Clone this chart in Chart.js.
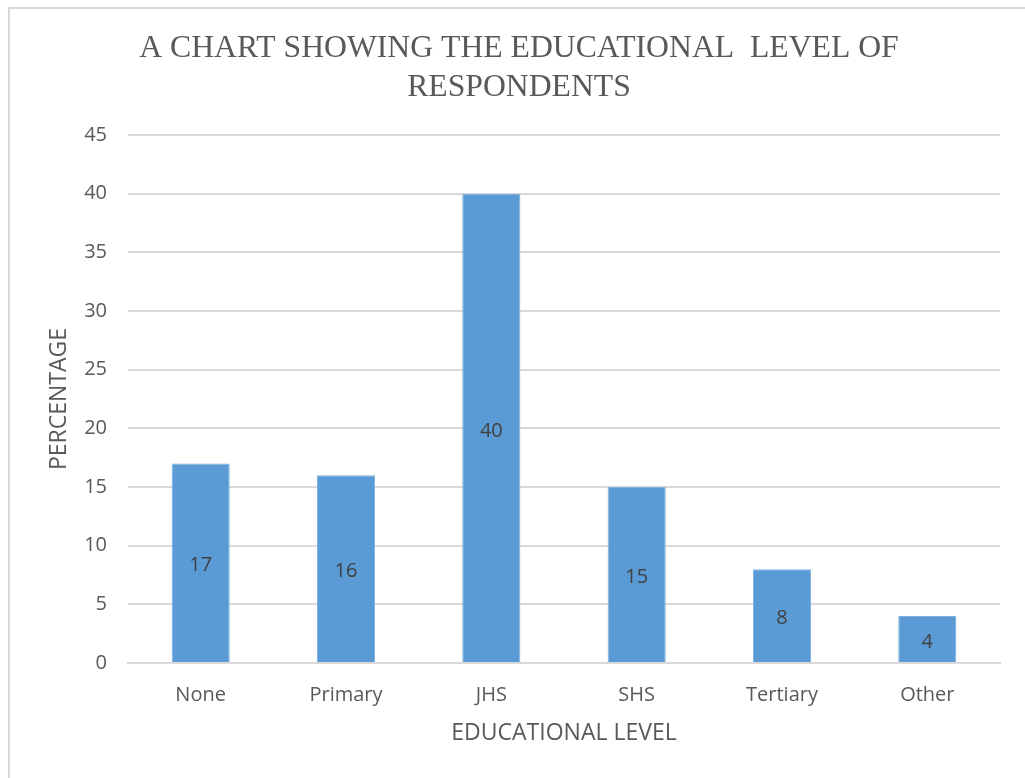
<!DOCTYPE html>
<html>
<head>
<meta charset="utf-8">
<script src="https://cdn.jsdelivr.net/npm/chart.js@4/dist/chart.umd.min.js"></script>
<style>
  html, body { margin: 0; padding: 0; background: #fff; }
  #frame { position: absolute; left: 8px; top: 7px; width: 1030px; height: 790px;
           border-left: 2px solid #d9d9d9; border-top: 2px solid #d9d9d9; }
  #wrap { position: absolute; left: 0; top: 0; width: 1025px; height: 778px; }
</style>
</head>
<body>
<div id="frame"></div>
<div id="wrap"><canvas id="c" width="1025" height="778"></canvas></div>
<script>
const categories = ['None', 'Primary', 'JHS', 'SHS', 'Tertiary', 'Other'];
const percentages = [17, 16, 40, 15, 8, 4];
const titleLines = ['A CHART SHOWING THE EDUCATIONAL  LEVEL OF', 'RESPONDENTS'];
const yAxisTitle = 'PERCENTAGE';
const xAxisTitle = 'EDUCATIONAL LEVEL';

const sansFont = "'Open Sans', 'Liberation Sans', sans-serif";

// Writes each bar's value in the middle of the bar.
const barValueLabels = {
  id: 'barValueLabels',
  afterDatasetsDraw(chart) {
    const { ctx } = chart;
    const meta = chart.getDatasetMeta(0);
    const values = chart.data.datasets[0].data;
    ctx.save();
    ctx.font = '20px ' + sansFont;
    ctx.fillStyle = '#404040';
    ctx.textAlign = 'center';
    ctx.textBaseline = 'middle';
    meta.data.forEach((bar, i) => {
      const p = bar.getProps(['x', 'y', 'base'], true);
      ctx.fillText(String(values[i]), p.x, (p.y + p.base) / 2 + 3);
    });
    ctx.restore();
  }
};

new Chart(document.getElementById('c'), {
  type: 'bar',
  data: {
    labels: categories,
    datasets: [{
      data: percentages,
      backgroundColor: '#5b9bd5',
      borderColor: '#7fb0de',
      borderWidth: 1,
      categoryPercentage: 1,
      barPercentage: 0.4
    }]
  },
  options: {
    responsive: false,
    animation: false,
    layout: { padding: { left: 38, right: 25, top: 0, bottom: 0 } },
    plugins: {
      legend: { display: false },
      tooltip: { enabled: false },
      title: {
        display: true,
        text: titleLines,
        color: '#595959',
        font: { family: "'Liberation Serif', 'Times New Roman', serif", size: 31.7, weight: 'normal', lineHeight: 1.23 },
        padding: { top: 29, bottom: 28 }
      }
    },
    scales: {
      x: {
        grid: { display: false, drawTicks: false },
        border: { display: true, color: '#d9d9d9', width: 2 },
        ticks: { color: '#595959', font: { family: sansFont, size: 20 }, padding: 20 },
        title: { display: true, text: xAxisTitle, color: '#595959',
                 font: { family: sansFont, size: 23 }, padding: { top: 0, bottom: 31 } },
        afterFit(scale) { scale.height = 115; }
      },
      y: {
        min: 0, max: 45,
        grid: { color: '#d9d9d9', lineWidth: 2, drawTicks: false },
        border: { display: false },
        ticks: { stepSize: 5, color: '#595959', font: { family: sansFont, size: 20 }, padding: 21 },
        title: { display: true, text: yAxisTitle, color: '#595959',
                 font: { family: sansFont, size: 23 }, padding: { top: 8, bottom: 0 } },
        afterFit(scale) { scale.width = 90; }
      }
    }
  },
  plugins: [barValueLabels]
});
</script>
</body>
</html>
